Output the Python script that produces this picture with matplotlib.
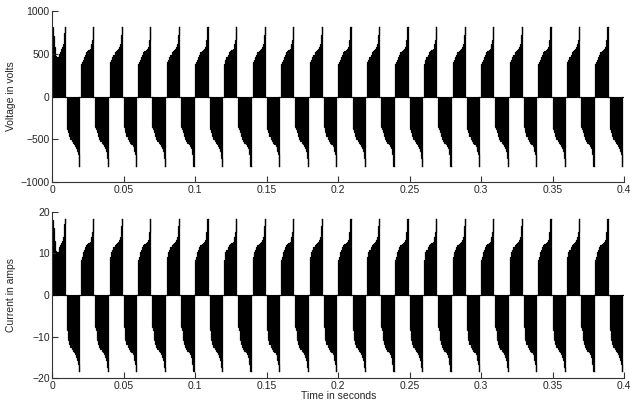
import numpy as np
import matplotlib
matplotlib.use("Agg")
import matplotlib.pyplot as plt

plt.rcParams['font.family'] = ['Liberation Sans', 'DejaVu Sans']
plt.rcParams['font.size'] = 7.5

# start of each positive half-cycle (s); the negative half-cycle starts 10 ms later
cycle_starts = [0.00, 0.02, 0.04, 0.06, 0.08, 0.10, 0.12, 0.14, 0.16, 0.18,
                0.20, 0.22, 0.24, 0.26, 0.28, 0.30, 0.32, 0.34, 0.36, 0.38]
half_offset = 0.01
pos_width = 0.0086
neg_width = 0.0087

# envelope of one conduction pulse, sampled at fractions of its width
pulse_frac = [0.00, 0.05, 0.12, 0.20, 0.30, 0.40, 0.50, 0.60, 0.70, 0.78, 0.84, 0.90, 0.95, 0.98]

v_pos = [380, 400, 430, 460, 490, 515, 535, 548, 555, 575, 610, 660, 720, 810]
v_neg = [-360, -385, -420, -460, -495, -520, -540, -560, -575, -605, -635, -670, -720, -815]
v_first = [810, 713, 577, 470, 382, 460, 500, 520, 558, 575, 616, 680, 740, 810]

i_pos = [8.3, 9.2, 10.3, 10.9, 11.5, 11.9, 12.3, 12.5, 12.7, 13.2, 14.0, 15.2, 16.5, 18.3]
i_neg = [-7.7, -8.5, -10.9, -11.8, -12.5, -12.9, -13.4, -13.7, -14.2, -14.9, -15.6, -16.5, -17.2, -18.2]
i_first = [17.9, 16.0, 13.0, 10.5, 8.5, 10.3, 11.5, 12.0, 12.6, 13.0, 14.0, 15.5, 17.0, 18.3]

x_ticks = [0, 0.05, 0.1, 0.15, 0.2, 0.25, 0.3, 0.35, 0.4]
x_ticklabels = ['0', '0.05', '0.1', '0.15', '0.2', '0.25', '0.3', '0.35', '0.4']
v_ticks = [-1000, -500, 0, 500, 1000]
i_ticks = [-20, -10, 0, 10, 20]


def draw_pulse(ax, t0, width, env):
    frac = np.append(pulse_frac, 1.0)
    vals = np.append(env, env[-1])
    t = t0 + frac * width
    ax.fill_between(t, 0, vals, step='post', color='black', linewidth=0)
    # outline keeps the narrow end spike visible
    ax.plot(np.r_[t0, t], np.r_[0, vals], drawstyle='steps-post',
            color='black', linewidth=0.9, solid_joinstyle='miter')
    ax.plot([t[-1], t[-1]], [vals[-1], 0], color='black', linewidth=0.9)


def draw_wave(ax, first, pos, neg):
    ax.axhline(0, color='black', linewidth=0.8)
    for k, t0 in enumerate(cycle_starts):
        draw_pulse(ax, t0, pos_width, first if k == 0 else pos)
        draw_pulse(ax, t0 + half_offset, neg_width, neg)


def style(ax, yticks, ylabel):
    ax.set_xlim(0, 0.4)
    ax.set_ylim(yticks[0], yticks[-1])
    ax.set_xticks(x_ticks)
    ax.set_xticklabels(x_ticklabels)
    ax.set_yticks(yticks)
    ax.spines['top'].set_visible(False)
    ax.spines['right'].set_visible(False)
    for s in ('left', 'bottom'):
        ax.spines[s].set_color('#333333')
        ax.spines[s].set_linewidth(0.8)
    ax.tick_params(direction='in', length=4, width=0.8, colors='#333333',
                   labelcolor='#262626', pad=2)
    ax.set_ylabel(ylabel, color='#262626')
    ax.yaxis.set_label_coords(-0.064, 0.5)


fig = plt.figure(figsize=(6.3, 4.07), dpi=100)
ax1 = fig.add_axes([0.0833, 0.5528, 0.9072, 0.4201])
ax2 = fig.add_axes([0.0833, 0.0705, 0.9072, 0.4094])

draw_wave(ax1, v_first, v_pos, v_neg)
style(ax1, v_ticks, 'Voltage in volts')

draw_wave(ax2, i_first, i_pos, i_neg)
style(ax2, i_ticks, 'Current in amps')
ax2.set_xlabel('Time in seconds', color='#262626', labelpad=0)

fig.savefig('out.png', dpi=100)
